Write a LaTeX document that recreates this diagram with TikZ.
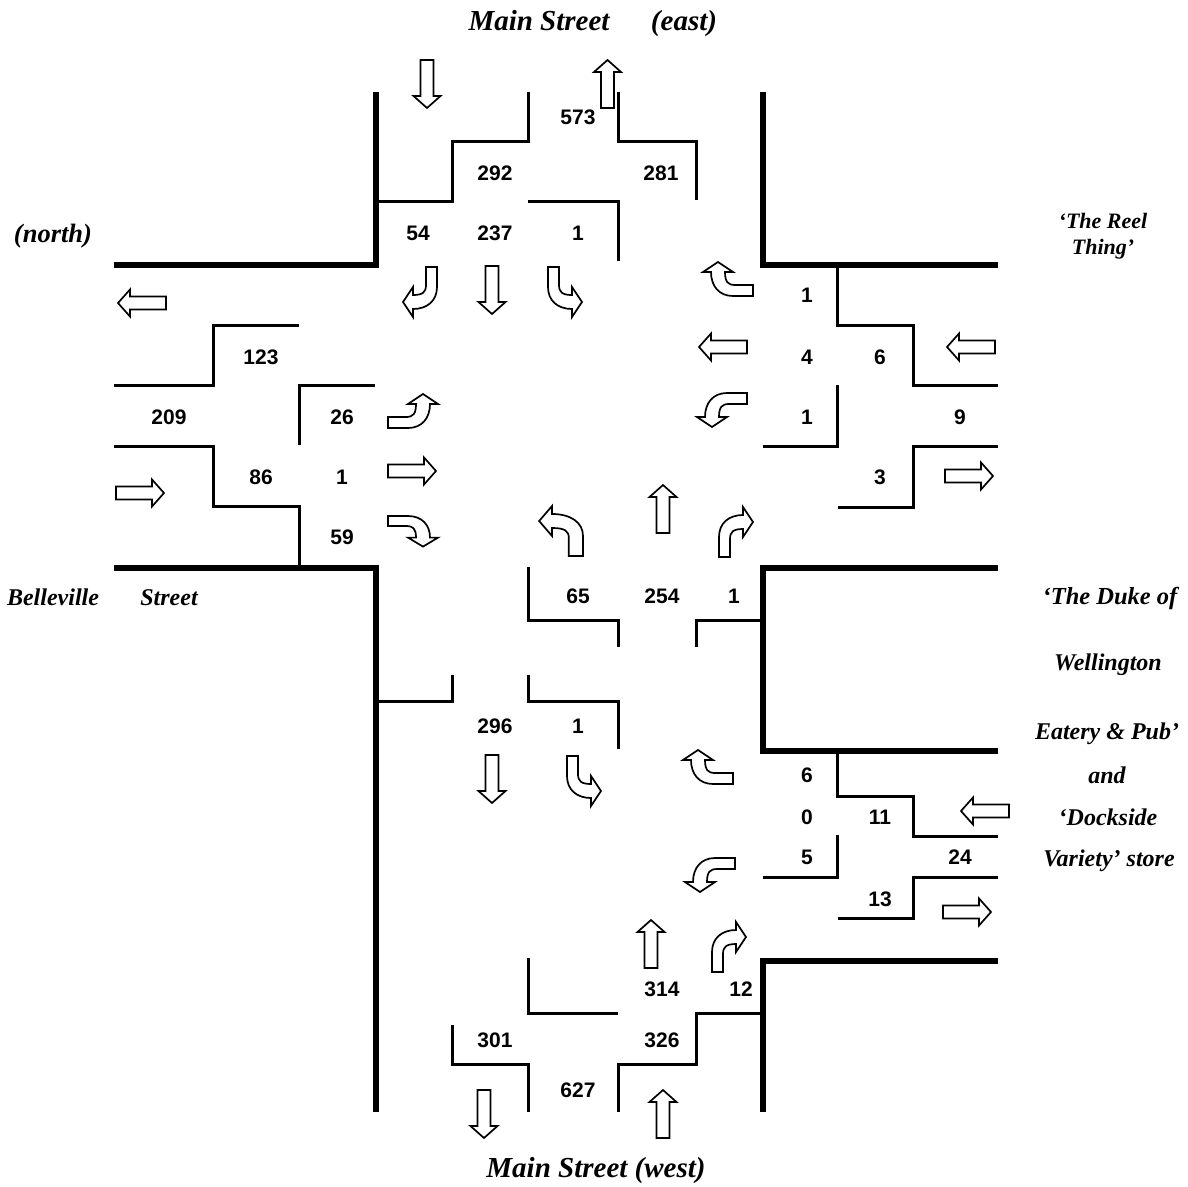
\documentclass[tikz,border=0pt]{standalone}
\usepackage{fontspec}
\setmainfont{Liberation Serif}
\newfontfamily\countfont{Liberation Sans}
\begin{document}
\begin{tikzpicture}[x=1pt, y=-1pt,
  every node/.style={inner sep=0pt},
  count/.style={font=\countfont\bfseries\fontsize{21}{24}\selectfont, yshift=-0.2pt},
  place/.style={font=\bfseries\itshape\fontsize{24}{28}\selectfont, text height=16pt, text depth=5pt, yshift=-3pt},
  smallplace/.style={place, font=\bfseries\itshape\fontsize{22}{26}\selectfont},
  bigplace/.style={place, font=\bfseries\itshape\fontsize{29}{32}\selectfont, text height=20pt, text depth=6pt, yshift=1pt},
  road/.style={line width=5.5pt, miter limit=10},
  lane/.style={line width=3pt},
  pics/straightarrow/.style={code={
    \draw[line width=1.7pt, fill=white, line join=miter] (-6.5,0) -- (-6.5,-36) -- (-13.5,-36) -- (0,-48) -- (13.5,-36) -- (6.5,-36) -- (6.5,0) -- cycle;
  }},
  pics/bentarrow/.style={code={
    \draw[line width=1.7pt, fill=white, line join=miter] (0,0) -- (0,-20) .. controls (0,-34) and (10,-42) .. (24,-42) -- (24,-50) -- (34,-35) -- (24,-20) -- (24,-28) .. controls (14,-28) and (11,-25) .. (11,-18) -- (11,0) -- cycle;
  }}]
  \useasboundingbox (0,0) rectangle (1188,1186);
  % kerbs
  \draw[road] (376,92) -- (376,265) -- (114,265);
  \draw[road] (763,92) -- (763,265) -- (998,265);
  \draw[road] (114,568) -- (376,568) -- (376,1112);
  \draw[road] (998,568) -- (763,568) -- (763,751) -- (998,751);
  \draw[road] (998,961) -- (763,961) -- (763,1112);
  % lanes, north end
  \draw[lane] (376,201) -- (452,201) -- (452,141) -- (528,141) -- (528,92);
  \draw[lane] (528,201) -- (618,201) -- (618,261);
  \draw[lane] (618,92) -- (618,141) -- (696,141) -- (696,200);
  % lanes, Belleville
  \draw[lane] (114,385) -- (213,385) -- (213,325) -- (299,325);
  \draw[lane] (375,385) -- (299,385) -- (299,445);
  \draw[lane] (114,446) -- (213,446) -- (213,506) -- (299,506) -- (299,566);
  % lanes, Reel Thing
  \draw[lane] (837,265) -- (837,325) -- (913,325) -- (913,385) -- (998,385);
  \draw[lane] (763,446) -- (837,446) -- (837,385);
  \draw[lane] (998,446) -- (913,446) -- (913,507) -- (838,507);
  % lanes, middle
  \draw[lane] (528,567) -- (528,620) -- (618,620) -- (618,647);
  \draw[lane] (696,647) -- (696,620) -- (763,620);
  \draw[lane] (376,701) -- (452,701) -- (452,675);
  \draw[lane] (528,675) -- (528,701) -- (618,701) -- (618,749);
  % lanes, Dockside
  \draw[lane] (837,751) -- (837,796) -- (913,796) -- (913,836) -- (998,836);
  \draw[lane] (763,877) -- (837,877) -- (837,835);
  \draw[lane] (998,877) -- (913,877) -- (913,918) -- (838,918);
  % lanes, south end
  \draw[lane] (528,958) -- (528,1013) -- (618,1013);
  \draw[lane] (763,1013) -- (696,1013) -- (696,1064) -- (618,1064) -- (618,1112);
  \draw[lane] (452,1025) -- (452,1064) -- (528,1064) -- (528,1112);
  % straight arrows
  \pic[rotate=180] at (427,60) {straightarrow};
  \pic at (607.5,108) {straightarrow};
  \pic[rotate=180] at (492,266) {straightarrow};
  \pic[rotate=90] at (166,303) {straightarrow};
  \pic[rotate=-90] at (116,493) {straightarrow};
  \pic[rotate=-90] at (388,471) {straightarrow};
  \pic[rotate=90] at (747,347) {straightarrow};
  \pic[rotate=90] at (995,347) {straightarrow};
  \pic[rotate=-90] at (945,476) {straightarrow};
  \pic at (663,533) {straightarrow};
  \pic[rotate=180] at (492,755) {straightarrow};
  \pic[rotate=90] at (1009,811) {straightarrow};
  \pic[rotate=-90] at (943,912) {straightarrow};
  \pic at (651,968) {straightarrow};
  \pic[rotate=180] at (484,1090) {straightarrow};
  \pic at (663,1138) {straightarrow};
  % turning arrows
  \pic[rotate=180] at (437,267) {bentarrow};
  \pic[yscale=-1] at (548,267) {bentarrow};
  \pic[rotate=90] at (753,296) {bentarrow};
  \pic[rotate=90, xscale=-1] at (747,393) {bentarrow};
  \pic[rotate=-90, xscale=-1] at (388,428) {bentarrow};
  \pic[rotate=-90, xscale=.9] at (388,516) {bentarrow};
  \pic[xscale=-1.29] at (583,556) {bentarrow};
  \pic at (719,557) {bentarrow};
  \pic[yscale=-1] at (567,756) {bentarrow};
  \pic[rotate=90] at (733,784) {bentarrow};
  \pic[rotate=90, xscale=-1] at (735,858) {bentarrow};
  \pic at (712,972) {bentarrow};
  % counts
  \node[count] (n573) at (578,117) {573};
  \node[count] (n292) at (495,173) {292};
  \node[count] (n281) at (661,173) {281};
  \node[count] (n54) at (418,233) {54};
  \node[count] (n237) at (495,233) {237};
  \node[count] (n1south) at (578,233) {1};
  \node[count] (n1reelA) at (807,295) {1};
  \node[count] (n4) at (807,357) {4};
  \node[count] (n6reel) at (880,357) {6};
  \node[count] (n123) at (261,357) {123};
  \node[count] (n209) at (169,417) {209};
  \node[count] (n26) at (342,417) {26};
  \node[count] (n1reelB) at (807,417) {1};
  \node[count] (n9) at (960,417) {9};
  \node[count] (n86) at (261,477) {86};
  \node[count] (n1belle) at (342,477) {1};
  \node[count] (n3) at (880,477) {3};
  \node[count] (n59) at (342,537) {59};
  \node[count] (n65) at (578,596) {65};
  \node[count] (n254) at (662,596) {254};
  \node[count] (n1north) at (734,596) {1};
  \node[count] (n296) at (495,726) {296};
  \node[count] (n1lower) at (578,726) {1};
  \node[count] (n6dock) at (807,775) {6};
  \node[count] (n0) at (807,817) {0};
  \node[count] (n11) at (880,817) {11};
  \node[count] (n5) at (807,857) {5};
  \node[count] (n24) at (960,857) {24};
  \node[count] (n13) at (880,899) {13};
  \node[count] (n314) at (662,989) {314};
  \node[count] (n12) at (741,989) {12};
  \node[count] (n301) at (495,1040) {301};
  \node[count] (n326) at (662,1040) {326};
  \node[count] (n627) at (578,1090) {627};
  % street and place names
  \node[bigplace] (mainEast) at (539,21) {Main Street};
  \node[bigplace] (east) at (684,21) {(east)};
  \node[bigplace] (mainWest) at (596,1168) {Main Street (west)};
  \node[place, font=\bfseries\itshape\fontsize{26.5}{30}\selectfont] (north) at (53,234) {(north)};
  \node[place] (belleville) at (53,597) {Belleville};
  \node[place] (street) at (169,597) {Street};
  \node[smallplace] (reelA) at (1103,220) {‘The Reel};
  \node[smallplace] (reelB) at (1103,246) {Thing’};
  \node[place, font=\bfseries\itshape\fontsize{24.5}{28}\selectfont] (dukeA) at (1110,596) {‘The Duke of};
  \node[place] (dukeB) at (1108,662) {Wellington};
  \node[place] (dukeC) at (1107,731) {Eatery \& Pub’};
  \node[place] (dockAnd) at (1107,775) {and};
  \node[place] (dockA) at (1108,817) {‘Dockside};
  \node[place] (dockB) at (1109,858) {Variety’ store};
\end{tikzpicture}
\end{document}
